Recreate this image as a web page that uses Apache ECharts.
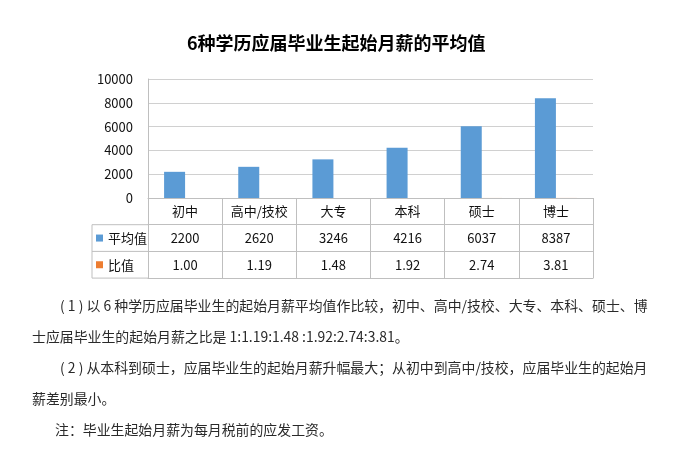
<!DOCTYPE html>
<html>
<head>
<meta charset="utf-8">
<script src="https://cdn.jsdelivr.net/npm/echarts@6/dist/echarts.min.js"></script>
<style>
  html, body { margin: 0; padding: 0; background: #fff; }
  #main { width: 693px; height: 467px; }
</style>
</head>
<body>
<div id="main"></div>
<script>
// 学历类别
const categories = ['初中', '高中/技校', '大专', '本科', '硕士', '博士'];
// 平均值（元）
const avgValues = [2200, 2620, 3246, 4216, 6037, 8387];
// 比值
const ratioValues = ['1.00', '1.19', '1.48', '1.92', '2.74', '3.81'];
// y轴刻度
const yTicks = [0, 2000, 4000, 6000, 8000, 10000];
// 说明文字
const notes = [
  '( 1 ) 以 6 种学历应届毕业生的起始月薪平均值作比较，初中、高中/技校、大专、本科、硕士、博',
  '士应届毕业生的起始月薪之比是 1:1.19:1.48 :1.92:2.74:3.81。',
  '( 2 ) 从本科到硕士，应届毕业生的起始月薪升幅最大；从初中到高中/技校，应届毕业生的起始月',
  '薪差别最小。',
  '注：毕业生起始月薪为每月税前的应发工资。'
];

const font = '"Noto Sans CJK SC", "Noto Sans", sans-serif';
const lineColor = '#bfbfbf';
const rowH = 26.7;

const chart = echarts.init(document.getElementById('main'));

// 表格行对应的坐标轴
function rowAxis(data, offset, showLabel) {
  return {
    type: 'category',
    data: data,
    position: 'bottom',
    offset: offset,
    axisLine: { show: true, lineStyle: { color: lineColor } },
    axisTick: { show: false },
    axisLabel: { show: showLabel, interval: 0, margin: 7, fontSize: 13, color: '#111', fontFamily: font },
    splitLine: { show: false }
  };
}

// 左侧图例格子的框线
const graphicLines = [
  [92, 198 + rowH, 148, 198 + rowH],
  [92, 198 + rowH * 2, 148, 198 + rowH * 2],
  [92, 198 + rowH * 3, 148, 198 + rowH * 3],
  [92, 198 + rowH, 92, 198 + rowH * 3]
].map(function (p) {
  return {
    type: 'line',
    shape: { x1: p[0], y1: p[1], x2: p[2], y2: p[3] },
    style: { stroke: lineColor, lineWidth: 1 }
  };
});

const noteX = [60, 32, 60, 32, 55];
const noteY = [306, 337, 368, 399, 430];
const graphicTexts = notes.map(function (t, i) {
  return {
    type: 'text',
    x: noteX[i],
    y: noteY[i],
    style: {
      text: t,
      font: '13.9px ' + font,
      fill: '#2a2a2a',
      verticalAlign: 'middle'
    }
  };
});

chart.setOption({
  animation: false,
  title: {
    text: '6种学历应届毕业生起始月薪的平均值',
    left: 187,
    top: 34,
    padding: 0,
    textStyle: { fontSize: 18, fontWeight: 'bold', color: '#000', fontFamily: font }
  },
  legend: {
    orient: 'vertical',
    left: 96,
    top: 198 + rowH * 1.5 - 7,
    padding: 0,
    itemGap: rowH - 14,
    itemWidth: 7,
    itemHeight: 7,
    icon: 'rect',
    textStyle: { fontSize: 13, lineHeight: 14, color: '#111', fontFamily: font },
    data: ['平均值', '比值']
  },
  grid: { left: 148, right: 100, top: 79, bottom: 269 },
  xAxis: [
    {
      type: 'category',
      data: categories,
      position: 'bottom',
      axisLine: { show: true, lineStyle: { color: lineColor } },
      axisTick: { show: true, length: rowH * 3, lineStyle: { color: lineColor } },
      axisLabel: { interval: 0, margin: 7, fontSize: 13, color: '#111', fontFamily: font },
      splitLine: { show: false }
    },
    rowAxis(avgValues.map(String), rowH, true),
    rowAxis(ratioValues, rowH * 2, true),
    rowAxis(categories.map(function () { return ''; }), rowH * 3, false)
  ],
  yAxis: {
    type: 'value',
    min: yTicks[0],
    max: yTicks[yTicks.length - 1],
    interval: 2000,
    axisLine: { show: true, lineStyle: { color: lineColor } },
    axisTick: { show: false },
    axisLabel: {
      margin: 15, fontSize: 13, color: '#111', fontFamily: font,
      formatter: function (v) { return String(v); }
    },
    splitLine: { lineStyle: { color: '#d0d0d0' } }
  },
  series: [
    {
      name: '平均值',
      type: 'bar',
      xAxisIndex: 0,
      data: avgValues,
      barWidth: 21,
      barGap: '0%',
      itemStyle: { color: '#5b9bd5' }
    },
    {
      name: '比值',
      type: 'bar',
      xAxisIndex: 0,
      data: ratioValues.map(Number),
      barWidth: 21,
      barGap: '0%',
      itemStyle: { color: '#ed7d31' }
    }
  ],
  graphic: graphicLines.concat(graphicTexts)
});
</script>
</body>
</html>
